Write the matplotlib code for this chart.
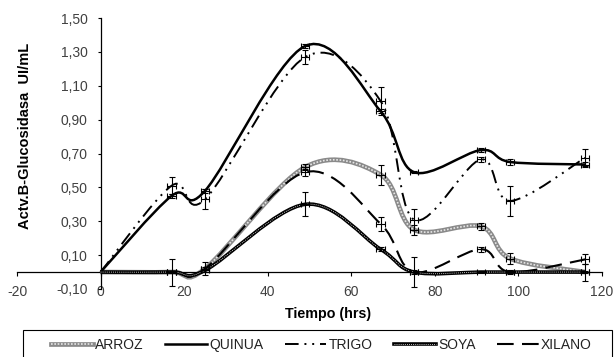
import numpy as np
import matplotlib
matplotlib.use('Agg')
import matplotlib.pyplot as plt
from matplotlib.path import Path
from matplotlib.patches import PathPatch, Rectangle
from matplotlib.lines import Line2D

plt.rcParams['font.family'] = ['Liberation Sans', 'DejaVu Sans']

# data
hours = [0, 17, 25, 49, 67, 75, 91, 98, 116]
arroz = [0, 0.0, 0.02, 0.62, 0.575, 0.25, 0.27, 0.08, 0.0]
quinua = [0, 0.45, 0.48, 1.335, 0.95, 0.59, 0.72, 0.65, 0.635]
trigo = [0, 0.51, 0.43, 1.27, 1.01, 0.31, 0.665, 0.42, 0.675]
soya = [0, 0.0, 0.01, 0.40, 0.135, 0.0, 0.0, 0.0, 0.0]
xilano = [0, 0.0, 0.02, 0.59, 0.285, 0.0, 0.135, 0.0, 0.075]

arroz_err = [0.005, 0.005, 0.01, 0.02, 0.06, 0.03, 0.02, 0.03, 0.005]
quinua_err = [0.005, 0.01, 0.012, 0.012, 0.012, 0.008, 0.012, 0.02, 0.015]
trigo_err = [0.005, 0.05, 0.06, 0.04, 0.08, 0.06, 0.015, 0.09, 0.05]
soya_err = [0.005, 0.005, 0.01, 0.07, 0.012, 0.01, 0.005, 0.005, 0.05]
xilano_err = [0.005, 0.08, 0.04, 0.02, 0.04, 0.09, 0.015, 0.012, 0.03]

labels = ['ARROZ', 'QUINUA', 'TRIGO', 'SOYA', 'XILANO']
x_ticks = [-20, 0, 20, 40, 60, 80, 100, 120]
y_ticks = [-0.10, 0.10, 0.30, 0.50, 0.70, 0.90, 1.10, 1.30, 1.50]


def smooth_path(x, y):
    # Excel-like smoothed line: cubic bezier through the points
    pts = np.column_stack([x, y]).astype(float)
    n = len(pts)
    verts = [pts[0]]
    codes = [Path.MOVETO]
    for i in range(n - 1):
        p0 = pts[max(i - 1, 0)]
        p1 = pts[i]
        p2 = pts[i + 1]
        p3 = pts[min(i + 2, n - 1)]
        verts += [p1 + (p2 - p0) / 6, p2 - (p3 - p1) / 6, p2]
        codes += [Path.CURVE4] * 3
    return Path(verts, codes)


def add_curve(ax, y, **kw):
    ax.add_patch(PathPatch(smooth_path(hours, y), fill=False, **kw))


fig = plt.figure(figsize=(6.15, 3.57), dpi=100)
ax = fig.add_axes([17 / 615, 1 - 289 / 357, 585 / 615, 271 / 357])

# curves (styles mimic the excel patterns)
add_curve(ax, arroz, edgecolor='#8a8a8a', lw=3.4, zorder=2)
add_curve(ax, arroz, edgecolor='#e6e6e6', lw=1.2, linestyle=(0, (1, 1)), zorder=2.1)
add_curve(ax, quinua, edgecolor='black', lw=1.8, zorder=3)
add_curve(ax, trigo, edgecolor='black', lw=1.4, linestyle=(0, (7, 3, 1, 3, 1, 3)), zorder=3)
add_curve(ax, soya, edgecolor='black', lw=2.6, zorder=3)
add_curve(ax, soya, edgecolor='white', lw=0.6, linestyle=(0, (1, 1.5)), zorder=3.1)
add_curve(ax, xilano, edgecolor='black', lw=1.5, linestyle=(0, (8, 4)), zorder=3)

# error bars (vertical + short horizontal -> the little boxed crosses)
for ys, err in [(arroz, arroz_err), (quinua, quinua_err), (trigo, trigo_err),
                (soya, soya_err), (xilano, xilano_err)]:
    ax.errorbar(hours[1:], ys[1:], yerr=err[1:], xerr=1.0, fmt='none',
                ecolor='black', elinewidth=0.8, capsize=2.5, capthick=0.8, zorder=4)

ax.set_xlim(-20, 120)
ax.set_ylim(-0.10, 1.50)

for s in ['top', 'right']:
    ax.spines[s].set_visible(False)
ax.spines['left'].set_position(('data', 0))
ax.spines['bottom'].set_position(('data', 0))
ax.spines['left'].set_linewidth(0.9)
ax.spines['bottom'].set_linewidth(0.9)

ax.set_xticks(x_ticks)
ax.set_xticklabels([str(v) for v in x_ticks])
ax.set_yticks(y_ticks)
ax.set_yticklabels([f"{v:.2f}".replace('.', ',') for v in y_ticks])
ax.tick_params(axis='x', direction='out', length=3, width=0.8, pad=6.5,
               labelsize=10, labelcolor='#404040')
ax.tick_params(axis='y', direction='out', length=2.5, width=0.8, pad=7,
               labelsize=10, labelcolor='#404040')

fig.text(25 / 615, 1 - 136 / 357, 'Actv.B-Glucosidasa  UI/mL', rotation=90,
         ha='center', va='center', fontsize=10.5, fontweight='bold')
fig.text(328 / 615, 1 - 314 / 357, 'Tiempo (hrs)', ha='center', va='center',
         fontsize=10.3, fontweight='bold')

# legend proxies
h_arroz = (Line2D([], [], color='#8a8a8a', lw=3.4),
           Line2D([], [], color='#e6e6e6', lw=1.2, linestyle=(0, (1, 1))))
h_quinua = Line2D([], [], color='black', lw=1.8)
h_trigo = Line2D([], [], color='black', lw=1.4, linestyle=(0, (7, 3, 1, 3, 1, 3)))
h_soya = (Line2D([], [], color='black', lw=2.6),
          Line2D([], [], color='white', lw=0.6, linestyle=(0, (1, 1.5))))
h_xilano = Line2D([], [], color='black', lw=1.5, linestyle=(0, (8, 4)))

# legend frame runs off the bottom of the picture, as in the reference
fig.patches.append(Rectangle((23 / 615, -0.1), 589 / 615, 0.1 + 1 - 330 / 357,
                             transform=fig.transFigure, fill=False,
                             edgecolor='black', lw=0.8))
leg = fig.legend([h_arroz, h_quinua, h_trigo, h_soya, h_xilano], labels,
                 loc='upper left', bbox_to_anchor=(43 / 615, 1 - 330 / 357, 557 / 615, 0.0),
                 mode='expand', ncol=5, fontsize=10, frameon=False,
                 handlelength=3.0, handletextpad=0.15,
                 borderpad=0.6, borderaxespad=0)
for t in leg.get_texts():
    t.set_color('#222222')

fig.savefig('out.png', dpi=100)
